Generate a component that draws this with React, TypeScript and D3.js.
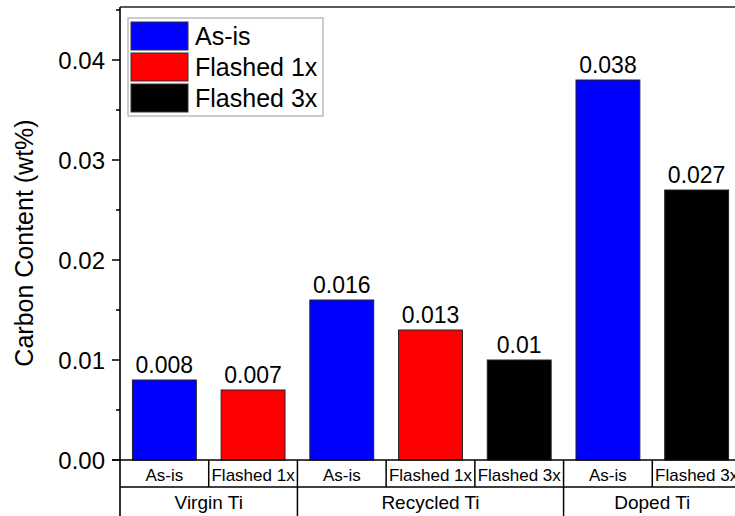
import React from "react";
import * as d3 from "d3";

const groups = ["Virgin Ti", "Recycled Ti", "Doped Ti"];
const treatments = [
  ["As-is", "Flashed 1x"],
  ["As-is", "Flashed 1x", "Flashed 3x"],
  ["As-is", "Flashed 3x"],
];
const carbonValues = [
  [0.008, 0.007],
  [0.016, 0.013, 0.01],
  [0.038, 0.027],
];
const seriesNames = ["As-is", "Flashed 1x", "Flashed 3x"];
const seriesColors = ["#0000FF", "#FF0000", "#000000"];
const majorTicks = [0, 0.01, 0.02, 0.03, 0.04];
const minorTicks = [0.005, 0.015, 0.025, 0.035, 0.045];

const W = 735;
const H = 516;
const FONT = "Arial, 'Liberation Sans', sans-serif";

export default function App() {
  const left = 120;
  const right = 741;
  const top = 7;
  const bottom = 460;
  const row1 = 487;

  const bars: { key: string; group: number; label: string; value: number; series: number }[] = [];
  groups.forEach((g, gi) => {
    treatments[gi].forEach((t, ti) => {
      bars.push({ key: `${gi}-${ti}`, group: gi, label: t, value: carbonValues[gi][ti], series: seriesNames.indexOf(t) });
    });
  });

  const x = d3.scaleBand<string>().domain(bars.map((b) => b.key)).range([left, right]).padding(0);
  const y = d3.scaleLinear().domain([0, 0.0453]).range([bottom, top]);
  const bw = x.bandwidth() * 0.72;

  const groupSpans = groups.map((g, gi) => {
    const keys = bars.filter((b) => b.group === gi).map((b) => b.key);
    const x0 = x(keys[0])!;
    const x1 = x(keys[keys.length - 1])! + x.bandwidth();
    return { g, x0, x1 };
  });

  return (
    <svg width={W} height={H} style={{ position: "absolute", left: 0, top: 0, background: "#fff" }} fontFamily={FONT}>
      <rect x={0} y={0} width={W} height={H} fill="#fff" />
      {bars.map((b) => {
        const cx = x(b.key)! + x.bandwidth() / 2;
        return (
          <g key={b.key}>
            <rect
              x={cx - bw / 2}
              y={y(b.value)}
              width={bw}
              height={y(0) - y(b.value)}
              fill={seriesColors[b.series]}
              stroke="#222"
              strokeWidth={1}
            />
            <text x={cx} y={y(b.value) - 7} textAnchor="middle" fontSize={23} fill="#000">
              {String(b.value)}
            </text>
          </g>
        );
      })}
      <line x1={left} x2={W + 10} y1={top} y2={top} stroke="#222" strokeWidth={1.6} />
      <line x1={left} x2={left} y1={top} y2={H + 5} stroke="#000" strokeWidth={1.6} />
      <line x1={left - 8} x2={W + 10} y1={bottom} y2={bottom} stroke="#000" strokeWidth={1.6} />
      {majorTicks.map((t) => (
        <g key={"M" + t}>
          <line x1={left - 8} x2={left} y1={y(t)} y2={y(t)} stroke="#000" strokeWidth={1.5} />
          <text x={left - 15} y={y(t) + 8.5} textAnchor="end" fontSize={24} fill="#000">
            {d3.format(".2f")(t)}
          </text>
        </g>
      ))}
      {minorTicks.map((t) => (
        <line key={"m" + t} x1={left - 4} x2={left} y1={y(t)} y2={y(t)} stroke="#000" strokeWidth={1.5} />
      ))}
      <text transform={`translate(33,${243}) rotate(-90)`} textAnchor="middle" fontSize={25} fill="#000">
        Carbon Content (wt%)
      </text>
      <line x1={left} x2={W + 10} y1={row1} y2={row1} stroke="#000" strokeWidth={1.5} />
      {bars.map((b) => {
        const x0 = x(b.key)!;
        return (
          <g key={"l" + b.key}>
            <line x1={x0 + x.bandwidth()} x2={x0 + x.bandwidth()} y1={bottom} y2={row1} stroke="#000" strokeWidth={1.5} />
            <text x={x0 + x.bandwidth() / 2} y={481} textAnchor="middle" fontSize={17} fill="#000">
              {b.label}
            </text>
          </g>
        );
      })}
      {groupSpans.map((s) => (
        <g key={s.g}>
          <line x1={s.x1} x2={s.x1} y1={row1} y2={H + 5} stroke="#000" strokeWidth={1.5} />
          <text x={(s.x0 + s.x1) / 2} y={509} textAnchor="middle" fontSize={19} fill="#000">
            {s.g}
          </text>
        </g>
      ))}
      <rect x={128} y={18} width={195} height={98} fill="#fff" stroke="#999" strokeWidth={1} />
      {seriesNames.map((n, i) => (
        <g key={n}>
          <rect x={131} y={22 + i * 31} width={57} height={28} fill={seriesColors[i]} stroke="#333" strokeWidth={1} />
          <text x={195} y={45 + i * 31} fontSize={25} fill="#000">
            {n}
          </text>
        </g>
      ))}
    </svg>
  );
}
